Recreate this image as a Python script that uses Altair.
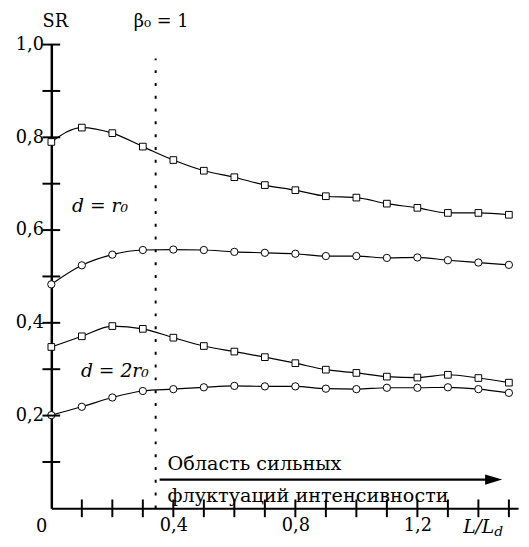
import altair as alt
import pandas as pd

# ---- data ----
x_vals = [0.0, 0.1, 0.2, 0.3, 0.4, 0.5, 0.6, 0.7, 0.8, 0.9, 1.0, 1.1, 1.2, 1.3, 1.4, 1.5]
sq_r0 = [0.790, 0.821, 0.809, 0.780, 0.751, 0.728, 0.714, 0.697, 0.686, 0.673, 0.670, 0.657, 0.648, 0.637, 0.637, 0.633]
ci_r0 = [0.483, 0.524, 0.547, 0.557, 0.558, 0.557, 0.553, 0.551, 0.549, 0.544, 0.544, 0.540, 0.541, 0.535, 0.530, 0.525]
sq_2r0 = [0.348, 0.371, 0.393, 0.387, 0.368, 0.350, 0.338, 0.326, 0.313, 0.299, 0.292, 0.284, 0.282, 0.288, 0.281, 0.271]
ci_2r0 = [0.201, 0.219, 0.239, 0.253, 0.257, 0.261, 0.264, 0.263, 0.263, 0.258, 0.257, 0.260, 0.260, 0.261, 0.257, 0.249]

x_label_vals = [0.4, 0.8, 1.2]
y_label_vals = [0.2, 0.4, 0.6, 0.8, 1.0]
x_minor = [0.1, 0.2, 0.3, 0.4, 0.5, 0.6, 0.7, 0.8, 0.9, 1.0, 1.1, 1.2, 1.3, 1.4, 1.5]
y_minor = [0.1, 0.2, 0.3, 0.4, 0.5, 0.6, 0.7, 0.8, 0.9, 1.0]

beta_x = 0.342
beta_top = 0.97
arrow_y = 0.062
arrow_x0 = 0.355
arrow_x1 = 1.45

ann_text = ["SR", "β₀ = 1", "Область сильных", "флуктуаций интенсивности", "0"]
ann_x = [0.013, 0.36, 0.381, 0.381, -0.032]
ann_y = [1.049, 1.049, 0.096, 0.027, -0.04]
ann_align = ["center", "center", "left", "left", "center"]

it_text = ["d = r₀", "d = 2r₀", "L/L"]
it_x = [0.068, 0.097, 1.35]
it_y = [0.652, 0.297, -0.04]

sub_text = ["d"]
sub_x = [1.452]
sub_y = [-0.052]

FONT = "DejaVu Serif"
XD = [0, 1.53]
YD = [0, 1.0]
W, H = 474, 471

rows = []
for name, shape, vals in [("sq_r0", "square", sq_r0), ("ci_r0", "circle", ci_r0),
                          ("sq_2r0", "square", sq_2r0), ("ci_2r0", "circle", ci_2r0)]:
    for xv, yv in zip(x_vals, vals):
        rows.append({"series": name, "shape": shape, "x": xv, "y": yv})
df = pd.DataFrame(rows)

xs = alt.Scale(domain=XD, nice=False, zero=False)
ys = alt.Scale(domain=YD, nice=False, zero=False)

label_expr = "replace(format(datum.value, '.1f'), '.', ',')"

x_enc = alt.X("x:Q", scale=xs, axis=alt.Axis(values=x_label_vals, labelExpr=label_expr, title=None,
              grid=False, tickSize=0, labelFont=FONT, labelFontSize=18, labelColor="black",
              labelPadding=9, domainColor="black", domainWidth=2))
y_enc = alt.Y("y:Q", scale=ys, axis=alt.Axis(values=y_label_vals, labelExpr=label_expr, title=None,
              grid=False, tickSize=0, labelFont=FONT, labelFontSize=18, labelColor="black",
              labelPadding=8, domainColor="black", domainWidth=2.5))

lines = alt.Chart(df).mark_line(interpolate="monotone", color="black", strokeWidth=1.2).encode(
    x=x_enc, y=y_enc, detail="series:N")

squares = alt.Chart(df[df["shape"] == "square"]).mark_point(
    shape="square", filled=True, fill="white", stroke="black", strokeWidth=1, size=46, opacity=1
).encode(x="x:Q", y="y:Q")
circles = alt.Chart(df[df["shape"] == "circle"]).mark_point(
    shape="circle", filled=True, fill="white", stroke="black", strokeWidth=1, size=55, opacity=1
).encode(x="x:Q", y="y:Q")

# axis ticks drawn as tick marks on the axis lines
ytick_df = pd.DataFrame({"ty": y_minor})
yticks = alt.Chart(ytick_df).mark_tick(
    color="black", thickness=2, size=18, orient="horizontal", opacity=1
).encode(y="ty:Q", x=alt.datum(0))
xtick_df = pd.DataFrame({"tx": x_minor})
xticks = alt.Chart(xtick_df).mark_tick(
    color="black", thickness=2, size=18, orient="vertical", opacity=1
).encode(x="tx:Q", y=alt.datum(0))

beta_df = pd.DataFrame({"x": [beta_x], "y": [0.0], "y2": [beta_top]})
beta_line = alt.Chart(beta_df).mark_rule(color="black", strokeWidth=2, strokeDash=[3, 10]).encode(
    x="x:Q", y="y:Q", y2="y2:Q")

arrow_df = pd.DataFrame({"x": [arrow_x0], "x2": [arrow_x1], "y": [arrow_y]})
arrow_line = alt.Chart(arrow_df).mark_rule(color="black", strokeWidth=2.2).encode(
    x="x:Q", x2="x2:Q", y="y:Q")
head_df = pd.DataFrame({"x": [arrow_x1], "y": [arrow_y]})
arrow_head = alt.Chart(head_df).mark_point(
    shape="M -1 -0.6 L 1 0 L -1 0.6 Z", filled=True, color="black", size=300, opacity=1
).encode(x="x:Q", y="y:Q")

ann_df = pd.DataFrame({"t": ann_text, "x": ann_x, "y": ann_y, "a": ann_align})
ann_c = alt.Chart(ann_df[ann_df["a"] == "center"]).mark_text(
    font=FONT, fontSize=18, color="black", align="center", baseline="middle"
).encode(x="x:Q", y="y:Q", text="t:N")
ann_l = alt.Chart(ann_df[ann_df["a"] == "left"]).mark_text(
    font=FONT, fontSize=19.5, color="black", align="left", baseline="middle"
).encode(x="x:Q", y="y:Q", text="t:N")

it_df = pd.DataFrame({"t": it_text, "x": it_x, "y": it_y})
it_marks = alt.Chart(it_df).mark_text(
    font=FONT, fontSize=19, fontStyle="italic", color="black", align="left", baseline="middle"
).encode(x="x:Q", y="y:Q", text="t:N")
sub_df = pd.DataFrame({"t": sub_text, "x": sub_x, "y": sub_y})
sub_marks = alt.Chart(sub_df).mark_text(
    font=FONT, fontSize=14, fontStyle="italic", color="black", align="left", baseline="middle"
).encode(x="x:Q", y="y:Q", text="t:N")

chart = alt.layer(
    beta_line, lines, squares, circles, yticks, xticks, arrow_line, arrow_head,
    ann_c, ann_l, it_marks, sub_marks
).properties(
    width=W, height=H,
    autosize=alt.AutoSizeParams(type="none"),
    padding={"left": 44, "top": 33, "right": 3, "bottom": 27},
).configure(background="white").configure_view(stroke=None)

chart.save("out.html", embed_options={"renderer": "svg", "actions": False})
